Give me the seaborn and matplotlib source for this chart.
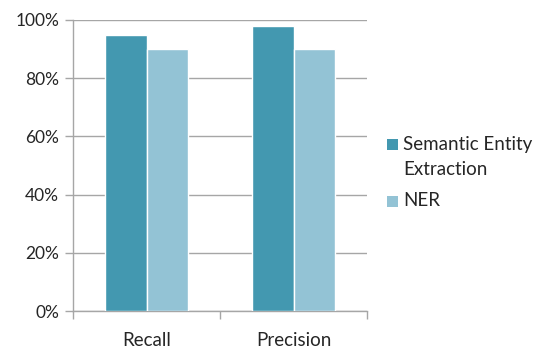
import matplotlib
matplotlib.use("Agg")
import matplotlib.pyplot as plt
from matplotlib.ticker import PercentFormatter, FixedLocator
from matplotlib.patches import Rectangle
import seaborn as sns
import pandas as pd

categories = ["Recall", "Precision"]
series_names = ["Semantic Entity\nExtraction", "NER"]
semantic_values = [95, 98]
ner_values = [90, 90]
y_ticks = [0, 20, 40, 60, 80, 100]

colors = ["#4398b0", "#93c3d5"]
text_color = "#262626"
line_color = "#a6a6a6"

df = pd.DataFrame({
    "metric": categories * 2,
    "method": [series_names[0]] * len(categories) + [series_names[1]] * len(categories),
    "value": semantic_values + ner_values,
})

sns.set_style("white")
plt.rcParams["font.family"] = ["Lato", "DejaVu Sans"]

W, H = 535, 352
fig = plt.figure(figsize=(W / 100, H / 100), dpi=100)
ax = fig.add_axes([73 / W, 41 / H, 294 / W, 291 / H])

sns.barplot(data=df, x="metric", y="value", hue="method", order=categories,
            hue_order=series_names, palette=colors, width=0.57, gap=0,
            saturation=1, ax=ax, legend=False, zorder=3)

ax.set_xlim(-0.5, 1.5)
ax.set_ylim(0, 100)
ax.yaxis.set_major_locator(FixedLocator(y_ticks))
ax.yaxis.set_major_formatter(PercentFormatter(decimals=0))
ax.grid(axis="y", color=line_color, linewidth=1, zorder=0)
ax.set_axisbelow(True)

for side in ["top", "right"]:
    ax.spines[side].set_visible(False)
for side in ["left", "bottom"]:
    ax.spines[side].set_color(line_color)
    ax.spines[side].set_linewidth(1)

ax.tick_params(axis="y", length=6, color=line_color, width=1, labelsize=12.5,
               labelcolor=text_color, pad=4, left=True)
ax.tick_params(axis="x", which="major", length=0, labelsize=13.5,
               labelcolor=text_color, pad=15)
ax.set_xticks([-0.5, 0.5, 1.5], minor=True)
ax.tick_params(axis="x", which="minor", length=6, color=line_color, width=1,
               bottom=True)
ax.set_xlabel("")
ax.set_ylabel("")

# legend: swatch aligned with the first line of each label
legend_rows = [(series_names[0], colors[0], 145), (series_names[1], colors[1], 201)]
sw = 11
for label, color, yc in legend_rows:
    fig.patches.append(Rectangle(((387) / W, 1 - (yc + sw / 2) / H), sw / W, sw / H,
                                 transform=fig.transFigure, facecolor=color,
                                 edgecolor="none"))
    fig.text(403 / W, 1 - (yc - 9) / H, label, ha="left", va="top",
             fontsize=13.5, color=text_color, linespacing=1.55)

fig.savefig("out.png", dpi=100)
